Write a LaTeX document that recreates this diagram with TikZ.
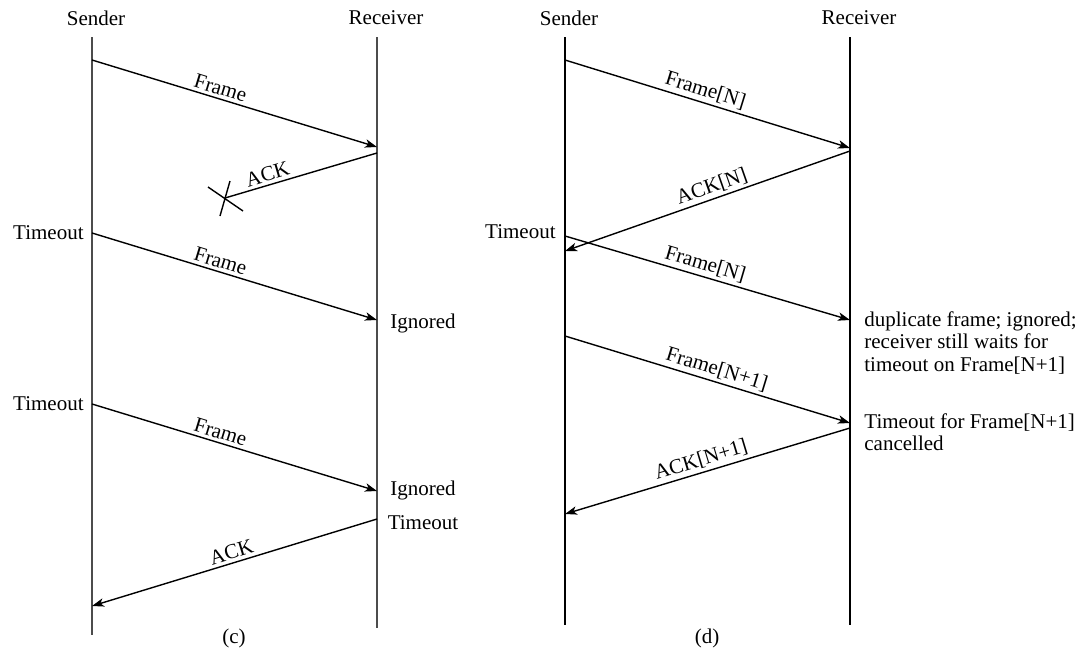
\documentclass[tikz,border=0pt]{standalone}
\usepackage{fontspec}
\setmainfont{Liberation Serif}
\usetikzlibrary{arrows.meta}
\begin{document}
\begin{tikzpicture}[x=0.5pt,y=-0.5pt,
    every node/.style={font=\fontsize{10.5}{11.25}\selectfont},
    life/.style={line width=1pt},
    msg/.style={line width=0.7pt,-{Stealth[length=6pt,width=4.2pt,inset=1.6pt]}},
    lost/.style={line width=0.7pt},
    lbl/.style={above,sloped,inner sep=1.5pt},
    note/.style={align=left,inner sep=0pt}]
    \useasboundingbox (0,0) rectangle (1092,653);
    % (c)
    \node (sc) at (96,18) {Sender};
    \node (rc) at (386,18) {Receiver};
    \draw [life,black!70] (92,37) -- (92,635);
    \draw [life,black!70] (377,37) -- (377,628);
    \coordinate (c1) at (92,60);   \coordinate (c2) at (377,147);
    \coordinate (c3) at (377,153); \coordinate (cx) at (225,198);
    \coordinate (c4) at (92,233);  \coordinate (c5) at (377,320);
    \coordinate (c6) at (92,404);  \coordinate (c7) at (377,491);
    \coordinate (c8) at (377,519); \coordinate (c9) at (92,606);
    \draw [msg] (c1) -- (c2) node [lbl,pos=0.44] {Frame};
    \draw [lost] (c3) -- (cx) node [lbl,pos=0.7] {ACK};
    \draw [lost] ([shift={(-17,-11)}]cx) -- ([shift={(18,13)}]cx)
                 ([shift={(5,-17)}]cx) -- ([shift={(-5,18)}]cx);
    \node [anchor=east,inner sep=0pt] (tc1) at (84,233) {Timeout};
    \draw [msg] (c4) -- (c5) node [lbl,pos=0.44] {Frame};
    \node (ig1) at (423,323) {Ignored};
    \node [anchor=east,inner sep=0pt] (tc2) at (84,404) {Timeout};
    \draw [msg] (c6) -- (c7) node [lbl,pos=0.44] {Frame};
    \node (ig2) at (423,490) {Ignored};
    \node (tc3) at (423,523) {Timeout};
    \draw [msg] (c8) -- (c9) node [lbl,pos=0.5] {ACK};
    \node (capc) at (234,638) {(c)};
    % (d)
    \node (sd) at (569,18) {Sender};
    \node (rd) at (859,18) {Receiver};
    \draw [life] (565,37) -- (565,625);
    \draw [life] (850,37) -- (850,625);
    \coordinate (d1) at (565,60);  \coordinate (d2) at (850,148);
    \coordinate (d3) at (850,151); \coordinate (d4) at (565,251);
    \coordinate (d5) at (565,236); \coordinate (d6) at (850,320);
    \coordinate (d7) at (565,336); \coordinate (d8) at (850,423);
    \coordinate (d9) at (850,428); \coordinate (d10) at (565,514);
    \draw [msg] (d1) -- (d2) node [lbl,pos=0.48] {Frame[N]};
    \draw [msg] (d3) -- (d4) node [lbl,pos=0.47] {ACK[N]};
    \node [anchor=east,inner sep=0pt] (td1) at (556,232) {Timeout};
    \draw [msg] (d5) -- (d6) node [lbl,pos=0.48] {Frame[N]};
    \node [note,anchor=north west] (dup) at (864,311)
        {duplicate frame; ignored;\\receiver still waits for\\timeout on Frame[N+1]};
    \draw [msg] (d7) -- (d8) node [lbl,pos=0.52] {Frame[N+1]};
    \node [note,anchor=north west] (canc) at (864,413)
        {Timeout for Frame[N+1]\\cancelled};
    \draw [msg] (d9) -- (d10) node [lbl,pos=0.51] {ACK[N+1]};
    \node (capd) at (707,638) {(d)};
\end{tikzpicture}
\end{document}
